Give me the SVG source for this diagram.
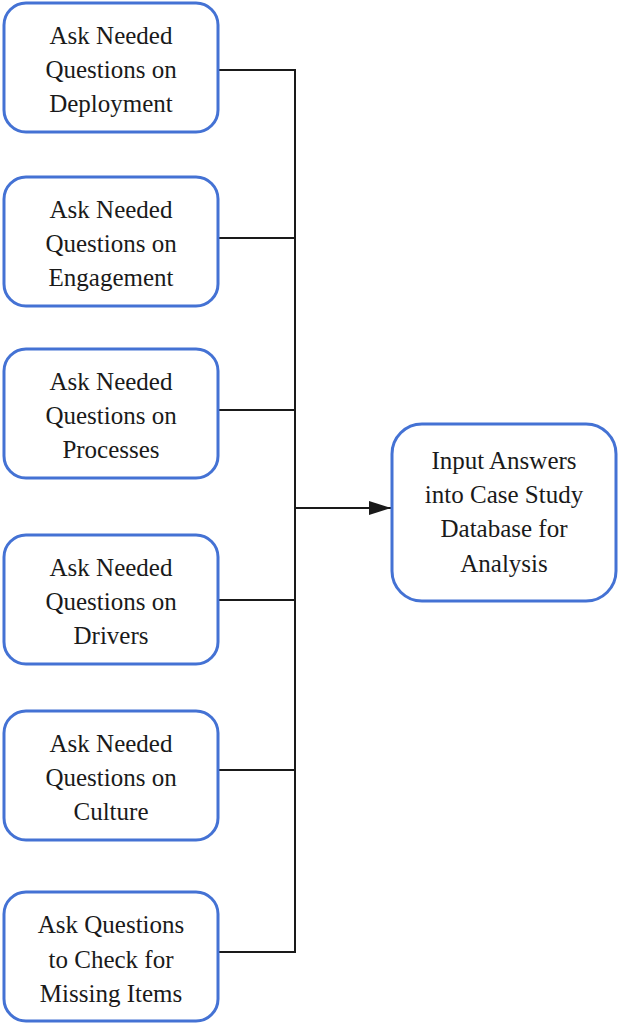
<svg xmlns="http://www.w3.org/2000/svg" width="618" height="1023" viewBox="0 0 618 1023">
  <style>
    .box { fill: #ffffff; stroke: #4472d4; stroke-width: 3; }
    .lbl { font-family: 'Liberation Serif', 'Times New Roman', Tinos, 'DejaVu Serif', serif; font-size: 25px; fill: #1a1a1a; text-anchor: middle; }
    .wire { fill: none; stroke: #1a1a1a; stroke-width: 2; }
  </style>
  <defs>
    <marker id="arrow" viewBox="0 0 10 10" refX="10" refY="5" markerWidth="22" markerHeight="14" markerUnits="userSpaceOnUse" orient="auto" preserveAspectRatio="none">
      <path d="M0,0 L10,5 L0,10 z" fill="#1a1a1a"/>
    </marker>
  </defs>
  <rect width="618" height="1023" fill="#ffffff"/>

  <g id="connectors">
    <polyline class="wire" points="218,70 295,70 295,952 218,952"/>
    <line class="wire" x1="218" y1="238" x2="295" y2="238"/>
    <line class="wire" x1="218" y1="410" x2="295" y2="410"/>
    <line class="wire" x1="218" y1="600" x2="295" y2="600"/>
    <line class="wire" x1="218" y1="770" x2="295" y2="770"/>
    <line class="wire" x1="295" y1="508" x2="391" y2="508" marker-end="url(#arrow)"/>
  </g>

  <g id="node-deployment">
    <rect class="box" x="4" y="3" width="214" height="129" rx="22"/>
    <text class="lbl" x="111" y="44" font-family="Liberation Serif, serif">Ask Needed</text>
    <text class="lbl" x="111" y="78">Questions on</text>
    <text class="lbl" x="111" y="112">Deployment</text>
  </g>

  <g id="node-engagement">
    <rect class="box" x="4" y="177" width="214" height="129" rx="22"/>
    <text class="lbl" x="111" y="218">Ask Needed</text>
    <text class="lbl" x="111" y="252">Questions on</text>
    <text class="lbl" x="111" y="286">Engagement</text>
  </g>

  <g id="node-processes">
    <rect class="box" x="4" y="349" width="214" height="129" rx="22"/>
    <text class="lbl" x="111" y="390">Ask Needed</text>
    <text class="lbl" x="111" y="424">Questions on</text>
    <text class="lbl" x="111" y="458">Processes</text>
  </g>

  <g id="node-drivers">
    <rect class="box" x="4" y="535" width="214" height="129" rx="22"/>
    <text class="lbl" x="111" y="576">Ask Needed</text>
    <text class="lbl" x="111" y="610">Questions on</text>
    <text class="lbl" x="111" y="644">Drivers</text>
  </g>

  <g id="node-culture">
    <rect class="box" x="4" y="711" width="214" height="129" rx="22"/>
    <text class="lbl" x="111" y="752">Ask Needed</text>
    <text class="lbl" x="111" y="786">Questions on</text>
    <text class="lbl" x="111" y="820">Culture</text>
  </g>

  <g id="node-missing">
    <rect class="box" x="4" y="892" width="214" height="129" rx="22"/>
    <text class="lbl" x="111" y="933">Ask Questions</text>
    <text class="lbl" x="111" y="968">to Check for</text>
    <text class="lbl" x="111" y="1002">Missing Items</text>
  </g>

  <g id="node-input">
    <rect class="box" x="392" y="424" width="224" height="177" rx="30"/>
    <text class="lbl" x="504" y="469">Input Answers</text>
    <text class="lbl" x="504" y="503">into Case Study</text>
    <text class="lbl" x="504" y="537">Database for</text>
    <text class="lbl" x="504" y="572">Analysis</text>
  </g>
</svg>
